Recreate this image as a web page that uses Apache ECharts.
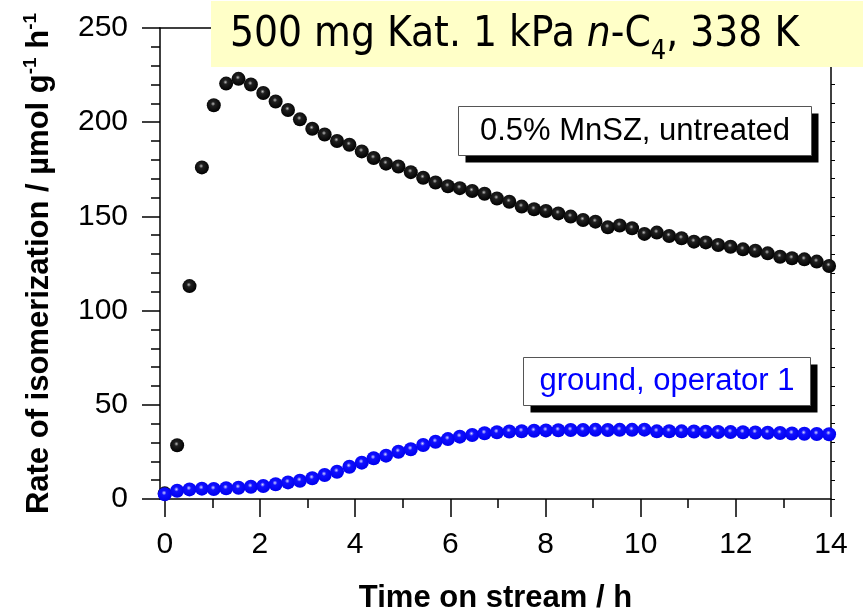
<!DOCTYPE html>
<html>
<head>
<meta charset="utf-8">
<script src="https://cdn.jsdelivr.net/npm/echarts@6/dist/echarts.min.js"></script>
<style>
  html, body { margin: 0; padding: 0; background: #fff; }
  #chart { width: 863px; height: 611px; }
</style>
</head>
<body>
<div id="chart"></div>
<script>
// Time on stream (h) for each sample
var timeOnStream = [
  0, 0.26, 0.52, 0.78, 1.03, 1.29, 1.55, 1.81, 2.07, 2.33,
  2.59, 2.84, 3.10, 3.36, 3.62, 3.88, 4.14, 4.39, 4.65, 4.91,
  5.17, 5.43, 5.69, 5.95, 6.20, 6.46, 6.72, 6.98, 7.24, 7.50,
  7.76, 8.01, 8.27, 8.53, 8.79, 9.05, 9.31, 9.56, 9.82, 10.08,
  10.34, 10.60, 10.86, 11.12, 11.37, 11.63, 11.89, 12.15, 12.41, 12.67,
  12.93, 13.18, 13.44, 13.70, 13.96
];

// Rate of isomerization, µmol g-1 h-1: untreated catalyst
var rateUntreated = [
  3, 28.5, 113, 176, 209, 220.5, 223, 220, 215.5, 211,
  206.5, 201.5, 196.5, 193.5, 190, 188, 184.5, 181, 178, 176.5,
  173.5, 170.5, 168, 166, 165, 163.5, 162, 159.5, 157.8, 155.2,
  153.8, 152.9, 151.6, 149.9, 148.1, 147.2, 144.2, 145.2, 143.7, 140.7,
  141.4, 139.6, 138.4, 136.6, 136.2, 134.8, 133.9, 132.5, 131.8, 130.4,
  128.6, 127.8, 127.2, 126.0, 123.7
];

// Rate of isomerization, µmol g-1 h-1: ground catalyst (operator 1)
var rateGround = [
  2.5, 4.4, 5.1, 5.5, 5.3, 5.7, 6.0, 6.5, 6.9, 7.8,
  8.8, 9.7, 11.0, 12.7, 14.5, 17.1, 19.3, 21.6, 23.0, 25.1,
  26.4, 28.7, 30.4, 31.8, 33.1, 34.0, 34.9, 35.4, 35.8, 36.0,
  36.2, 36.4, 36.5, 36.6, 36.6, 36.7, 36.6, 36.7, 36.7, 36.8,
  35.9, 36.0, 35.9, 35.8, 35.7, 35.6, 35.5, 35.4, 35.3, 35.2,
  35.0, 34.8, 34.6, 34.5, 34.4
];

var seriesNames = ['0.5% MnSZ, untreated', 'ground, operator 1'];
var seriesColors = ['#000000', '#0000ff'];
var xMajorTicks = [0, 2, 4, 6, 8, 10, 12, 14];
var xMinorTicks = [1, 3, 5, 7, 9, 11, 13];

function pairs(xs, ys) {
  return xs.map(function (x, i) { return [x, ys[i]]; });
}

var FONT = 'Liberation Sans, Arial, sans-serif';
var TITLE_FONT = 'DejaVu Sans Condensed, DejaVu Sans, sans-serif';

// shaded "ball" fills
var blackBall = {
  type: 'radial', x: 0.45, y: 0.4, r: 0.6,
  colorStops: [
    { offset: 0, color: '#c8c8c8' },
    { offset: 0.08, color: '#8a8a8a' },
    { offset: 0.26, color: '#202020' },
    { offset: 1, color: '#000000' }
  ]
};
var blueBall = {
  type: 'radial', x: 0.45, y: 0.4, r: 0.6,
  colorStops: [
    { offset: 0, color: '#dcdcff' },
    { offset: 0.08, color: '#9a9aff' },
    { offset: 0.28, color: '#1010ff' },
    { offset: 1, color: '#0000ee' }
  ]
};

// framed legend box with a hard drop shadow
function legendBox(x, y, w, h, label, color) {
  return {
    type: 'group',
    left: x, top: y,
    silent: true,
    children: [
      { type: 'rect', shape: { x: 7, y: 7, width: w, height: h }, style: { fill: '#000' } },
      { type: 'rect', shape: { x: 0, y: 0, width: w, height: h }, style: { fill: '#fff', stroke: '#555', lineWidth: 1 } },
      {
        type: 'text', x: w / 2, y: h / 2,
        style: {
          text: label, fill: color, font: '31px ' + FONT,
          align: 'center', verticalAlign: 'middle'
        }
      }
    ]
  };
}

var chart = echarts.init(document.getElementById('chart'), null, { renderer: 'canvas' });

chart.setOption({
  animation: false,
  backgroundColor: '#ffffff',
  title: {
    left: 211,
    top: 0,
    padding: [13, 80, 2, 19],
    backgroundColor: '#FFFFC8',
    text: '{n|500 mg Kat. 1 kPa }{i|n}{n|-C}{sub|4}{n|, 338 K}',
    textStyle: {
      fontWeight: 'normal',
      rich: {
        n: { fontFamily: TITLE_FONT, fontWeight: 'normal', fontSize: 42, color: '#000', lineHeight: 44 },
        i: { fontFamily: TITLE_FONT, fontWeight: 'normal', fontStyle: 'italic', fontSize: 42, color: '#000', lineHeight: 44 },
        sub: { fontFamily: TITLE_FONT, fontWeight: 'normal', fontSize: 27, color: '#000', verticalAlign: 'bottom', lineHeight: 44, padding: [0, 0, -8, 0] }
      }
    }
  },
  graphic: [
    legendBox(458, 106, 353, 49, seriesNames[0], seriesColors[0]),
    legendBox(523, 357, 287, 48, seriesNames[1], seriesColors[1])
  ],
  grid: { left: 160, right: 32, top: 28, bottom: 112, containLabel: false, outerBoundsMode: 'none' },
  xAxis: [
    {
      type: 'value', min: -0.1, max: 14,
      name: 'Time on stream / h',
      nameLocation: 'middle',
      nameGap: 84,
      nameTextStyle: { fontFamily: FONT, fontSize: 31, fontWeight: 'bold', color: '#000' },
      axisLine: { show: true, onZero: false, lineStyle: { color: '#000', width: 1.5 } },
      axisTick: { show: true, customValues: xMajorTicks, length: 18, lineStyle: { color: '#000', width: 1.5 } },
      axisLabel: { show: true, customValues: xMajorTicks, margin: 31, fontFamily: FONT, fontSize: 30, color: '#000' },
      splitLine: { show: false }
    },
    {
      type: 'value', min: -0.1, max: 14, position: 'bottom',
      axisLine: { show: false },
      axisTick: { show: true, customValues: xMinorTicks, length: 9, lineStyle: { color: '#000', width: 1.5 } },
      axisLabel: { show: false },
      splitLine: { show: false }
    },
    {
      type: 'value', min: -0.1, max: 14, position: 'top',
      axisLine: { show: true, onZero: false, lineStyle: { color: '#000', width: 1.5 } },
      axisTick: { show: false },
      axisLabel: { show: false },
      splitLine: { show: false }
    }
  ],
  yAxis: [
    {
      type: 'value', min: 0, max: 250, interval: 50,
      name: '{b|Rate of isomerization / µmol g}{s|-1}{b| h}{s|-1}',
      nameLocation: 'middle',
      nameGap: 103,
      nameTextStyle: {
        fontFamily: FONT, fontSize: 31, fontWeight: 'bold', color: '#000',
        rich: {
          b: { fontFamily: FONT, fontSize: 31, fontWeight: 'bold', color: '#000', lineHeight: 36 },
          s: { fontFamily: FONT, fontSize: 19, fontWeight: 'bold', color: '#000', verticalAlign: 'top', lineHeight: 36, padding: [0, 0, 14, 0] }
        }
      },
      axisLine: { show: true, onZero: false, lineStyle: { color: '#000', width: 1.5 } },
      axisTick: { show: true, length: 18, lineStyle: { color: '#000', width: 1.5 } },
      minorTick: { show: true, splitNumber: 5, length: 9, lineStyle: { color: '#000', width: 1.5 } },
      axisLabel: { margin: 32, fontFamily: FONT, fontSize: 30, color: '#000' },
      splitLine: { show: false },
      minorSplitLine: { show: false }
    },
    {
      type: 'value', min: 0, max: 250, interval: 10, position: 'right',
      axisLine: { show: true, onZero: false, lineStyle: { color: '#000', width: 1.5 } },
      axisTick: { show: true, length: 4, lineStyle: { color: '#000', width: 1 } },
      axisLabel: { show: false },
      splitLine: { show: false }
    }
  ],
  series: [
    {
      name: seriesNames[0],
      type: 'scatter',
      xAxisIndex: 0, yAxisIndex: 0,
      symbol: 'circle',
      symbolSize: 14,
      itemStyle: { color: blackBall, opacity: 1 },
      data: pairs(timeOnStream, rateUntreated),
      z: 2
    },
    {
      name: seriesNames[1],
      type: 'scatter',
      xAxisIndex: 0, yAxisIndex: 0,
      symbol: 'circle',
      symbolSize: 14,
      itemStyle: { color: blueBall, opacity: 1 },
      data: pairs(timeOnStream, rateGround),
      z: 3
    }
  ]
});
</script>
</body>
</html>
